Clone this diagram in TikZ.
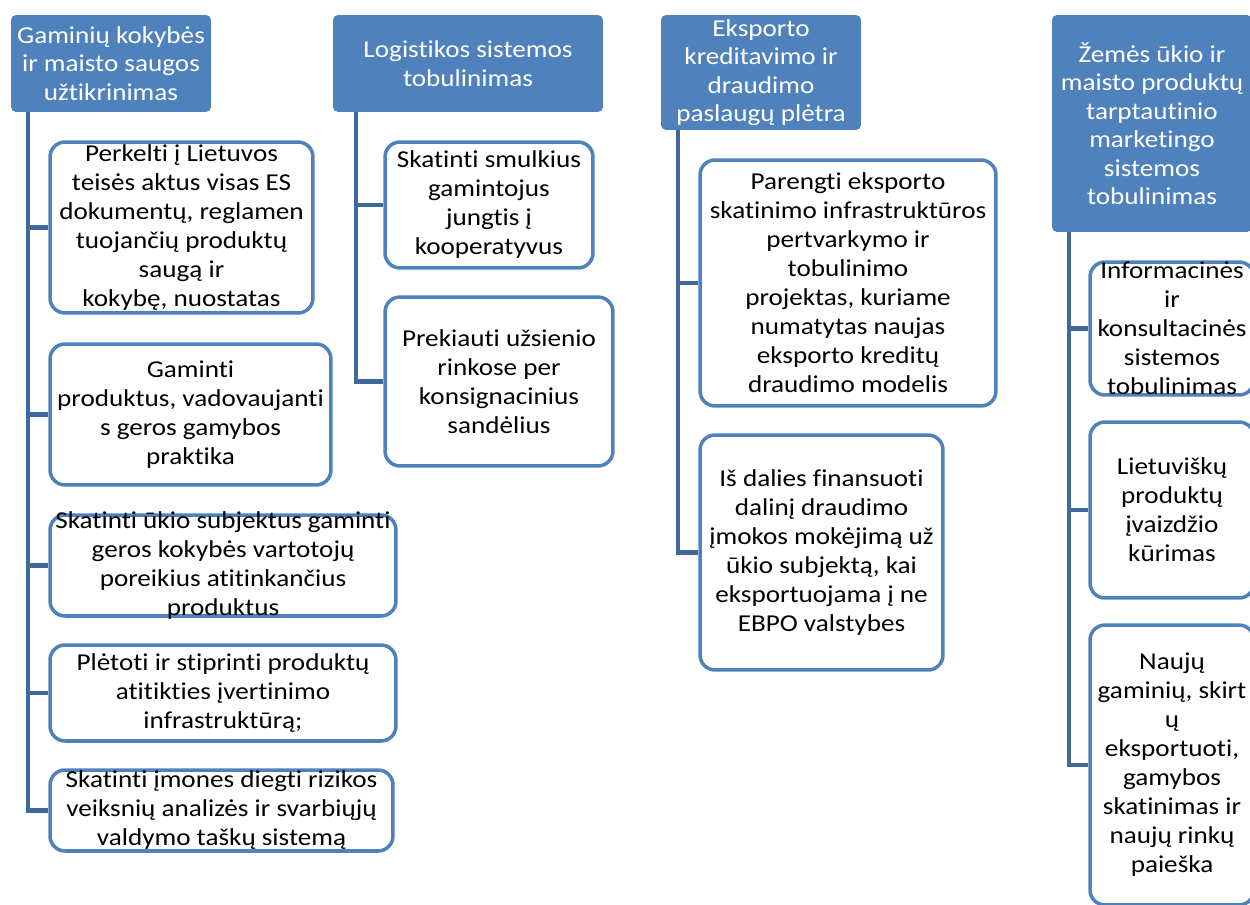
\documentclass[tikz,border=0pt]{standalone}
\usepackage{fontspec}
\setmainfont{Carlito}[FakeStretch=1.12, Ligatures=NoCommon]
\usepackage{tikz}
\usetikzlibrary{positioning,calc}

\definecolor{hdrblue}{HTML}{4F81BD}
\definecolor{linkblue}{HTML}{41689A}

\tikzset{
  hdr/.style={fill=hdrblue, rounded corners=0.1cm, inner sep=0pt},
  box/.style={draw=hdrblue, line width=2pt, fill=white, rounded corners=0.3cm, inner sep=0pt},
  hdrtxt/.style={text=white, align=center, inner sep=0pt, font=\fontsize{13.8pt}{16.2pt}\selectfont},
  boxtxt/.style={text=black, align=center, inner sep=0pt, font=\fontsize{13.8pt}{16.5pt}\selectfont},
  link/.style={draw=linkblue, line width=2.3pt}
}

\begin{document}
\begin{tikzpicture}[x=0.02cm, y=-0.02cm]
\useasboundingbox (0,0) rectangle (1250,905);
\clip (0,0) rectangle (1250,905);

% headers
\node (h1) [hdr, minimum width=4.00cm, minimum height=1.94cm] at (111,63.5) {};
\node (h2) [hdr, minimum width=5.40cm, minimum height=1.94cm] at (468,63.5) {};
\node (h3) [hdr, minimum width=4.00cm, minimum height=2.30cm] at (761,72.5) {};
\node (h4) [hdr, minimum width=4.00cm, minimum height=4.34cm] at (1152,123.5) {};
\node (h1t) [hdrtxt] at (h1) {Gaminių kokybės\\ir maisto saugos\\užtikrinimas};
\node (h2t) [hdrtxt] at (h2) {Logistikos sistemos\\tobulinimas};
\node (h3t) [hdrtxt] at (h3) {Eksporto\\kreditavimo ir\\draudimo\\paslaugų plėtra};
\node (h4t) [hdrtxt] at (h4) {Žemės ūkio ir\\maisto produktų\\tarptautinio\\marketingo\\sistemos\\tobulinimas};

% trunk points
\coordinate (b1) at ($(h1.south west)!0.087!(h1.south east)$);
\coordinate (b2) at ($(h2.south west)!0.087!(h2.south east)$);
\coordinate (b3) at ($(h3.south west)!0.087!(h3.south east)$);
\coordinate (b4) at ($(h4.south west)!0.087!(h4.south east)$);

% column 1
\node (c11) [box, minimum width=5.26cm, minimum height=3.42cm] at (181.5,227.5) {};
\node (c12) [box, minimum width=5.62cm, minimum height=2.82cm] at (190.5,414.5) {};
\node (c13) [box, minimum width=6.92cm, minimum height=2.02cm] at (223,565.5) {};
\node (c14) [box, minimum width=6.92cm, minimum height=1.92cm] at (223,693) {};
\node (c15) [box, minimum width=6.86cm, minimum height=1.62cm] at (221.5,810.5) {};
\node (c11t) [boxtxt] at (c11) {Perkelti į Lietuvos\\teisės aktus visas ES\\dokumentų, reglamen\\tuojančių produktų\\saugą ir\\kokybę, nuostatas};
\node (c12t) [boxtxt] at (c12) {Gaminti\\produktus, vadovaujanti\\s geros gamybos\\praktika};
\node (c13t) [boxtxt] at (c13) {Skatinti ūkio subjektus gaminti\\geros kokybės vartotojų\\poreikius atitinkančius\\produktus};
\node (c14t) [boxtxt] at (c14) {Plėtoti ir stiprinti produktų\\atitikties įvertinimo\\infrastruktūrą;};
\node (c15t) [boxtxt] at (c15) {Skatinti įmones diegti rizikos\\veiksnių analizės ir svarbiųjų\\valdymo taškų sistemą};

% column 2
\node (c21) [box, minimum width=4.16cm, minimum height=2.52cm] at (489,205) {};
\node (c22) [box, minimum width=4.56cm, minimum height=3.38cm] at (499,381.5) {};
\node (c21t) [boxtxt] at (c21) {Skatinti smulkius\\gamintojus\\jungtis į\\kooperatyvus};
\node (c22t) [boxtxt] at (c22) {Prekiauti užsienio\\rinkose per\\konsignacinius\\sandėlius};

% column 3
\node (c31) [box, minimum width=5.92cm, minimum height=4.92cm] at (848,283) {};
\node (c32) [box, minimum width=4.86cm, minimum height=4.70cm] at (821.5,552.5) {};
\node (c31t) [boxtxt] at (c31) {Parengti eksporto\\skatinimo infrastruktūros\\pertvarkymo ir\\tobulinimo\\projektas, kuriame\\numatytas naujas\\eksporto kreditų\\draudimo modelis};
\node (c32t) [boxtxt] at (c32) {Iš dalies finansuoti\\dalinį draudimo\\įmokos mokėjimą už\\ūkio subjektą, kai\\eksportuojama į ne\\EBPO valstybes};

% column 4
\node (c41) [box, minimum width=3.28cm, minimum height=2.66cm] at (1172,328.5) {};
\node (c42) [box, minimum width=3.28cm, minimum height=3.52cm] at (1172,510) {};
\node (c43) [box, minimum width=3.28cm, minimum height=5.60cm] at (1172,765) {};
\node (c41t) [boxtxt] at (c41) {Informacinės\\ir\\konsultacinės\\sistemos\\tobulinimas};
\node (c42t) [boxtxt] at (c42) {Lietuviškų\\produktų\\įvaizdžio\\kūrimas};
\node (c43t) [boxtxt] at (c43) {Naujų\\gaminių, skirt\\ų\\eksportuoti,\\gamybos\\skatinimas ir\\naujų rinkų\\paieška};

% connectors
\draw[link] (b1) |- (c11.west);
\draw[link] (b1) |- (c12.west);
\draw[link] (b1) |- (c13.west);
\draw[link] (b1) |- (c14.west);
\draw[link] (b1) |- (c15.west);
\draw[link] (b2) |- (c21.west);
\draw[link] (b2) |- (c22.west);
\draw[link] (b3) |- (c31.west);
\draw[link] (b3) |- (c32.west);
\draw[link] (b4) |- (c41.west);
\draw[link] (b4) |- (c42.west);
\draw[link] (b4) |- (c43.west);
\end{tikzpicture}
\end{document}
